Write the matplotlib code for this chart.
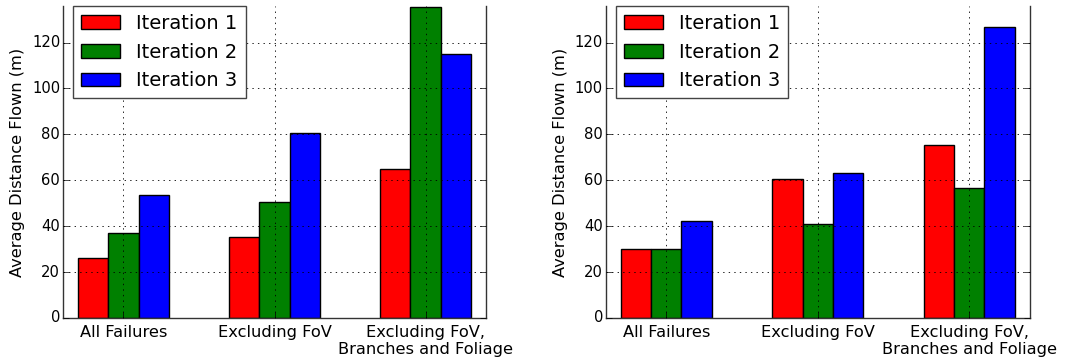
import matplotlib
matplotlib.use("Agg")
import matplotlib.pyplot as plt
import numpy as np

categories = ["All Failures", "Excluding FoV", "Excluding FoV,\nBranches and Foliage"]
series_names = ["Iteration 1", "Iteration 2", "Iteration 3"]
colors = ["#ff0000", "#008000", "#0000ff"]

left_iter1 = [26.0, 35.3, 64.8]
left_iter2 = [36.9, 50.7, 135.5]
left_iter3 = [53.6, 80.6, 115.2]

right_iter1 = [30.2, 60.4, 75.5]
right_iter2 = [30.1, 41.1, 56.5]
right_iter3 = [42.4, 63.3, 126.9]

ylabel = "Average Distance Flown (m)"
yticks = [0, 20, 40, 60, 80, 100, 120]

plt.style.use("classic")
plt.rcParams["font.family"] = ["DejaVu Sans"]
plt.rcParams["figure.facecolor"] = "white"
plt.rcParams["savefig.facecolor"] = "white"

W, H = 1066, 358
fig = plt.figure(figsize=(W / 100, H / 100), dpi=100)
ax_top = 6.0
ax_bottom = 318.0
ax1 = fig.add_axes([63 / W, (H - ax_bottom) / H, 423 / W, (ax_bottom - ax_top) / H])
ax2 = fig.add_axes([605.7 / W, (H - ax_bottom) / H, 424 / W, (ax_bottom - ax_top) / H])

x = np.arange(len(categories))
w = 0.2

for ax, data in [(ax1, [left_iter1, left_iter2, left_iter3]),
                 (ax2, [right_iter1, right_iter2, right_iter3])]:
    for i, (vals, name, c) in enumerate(zip(data, series_names, colors)):
        ax.bar(x + (i - 1) * w, vals, width=w, align="center", color=c,
               edgecolor="black", linewidth=1.0, label=name, zorder=2)
    ax.set_xlim(-0.4, 2.4)
    ax.set_ylim(0, 135.9)
    ax.set_xticks(x)
    ax.set_xticklabels(categories, fontsize=11.7)
    ax.set_yticks(yticks)
    ax.tick_params(axis="y", labelsize=10.6, pad=2)
    ax.tick_params(axis="x", pad=5, top=False)
    ax.set_ylabel(ylabel, fontsize=11.7, labelpad=5)
    ax.grid(True, color="black", linestyle=":", linewidth=0.6, zorder=3)
    ax.set_axisbelow(False)
    ax.spines["top"].set_visible(False)
    for sp in ax.spines.values():
        sp.set_linewidth(1.0)
        sp.set_color("#333333")
    # legend offset ~10 px from the left spine, top aligned with axes top
    bb = ax.get_position()
    anchor = ((bb.x0 * W + 10.3) / W, bb.y1)
    leg = ax.legend(loc="upper left", bbox_to_anchor=anchor,
                    bbox_transform=fig.transFigure, fontsize=14,
                    borderaxespad=0.0, labelspacing=0.5, handletextpad=0.85,
                    handlelength=2.0, borderpad=0.4, fancybox=False)
    leg.get_frame().set_edgecolor("#444444")
    leg.get_frame().set_linewidth(1.0)
    leg.set_zorder(5)

fig.savefig("out.png", dpi=100)
